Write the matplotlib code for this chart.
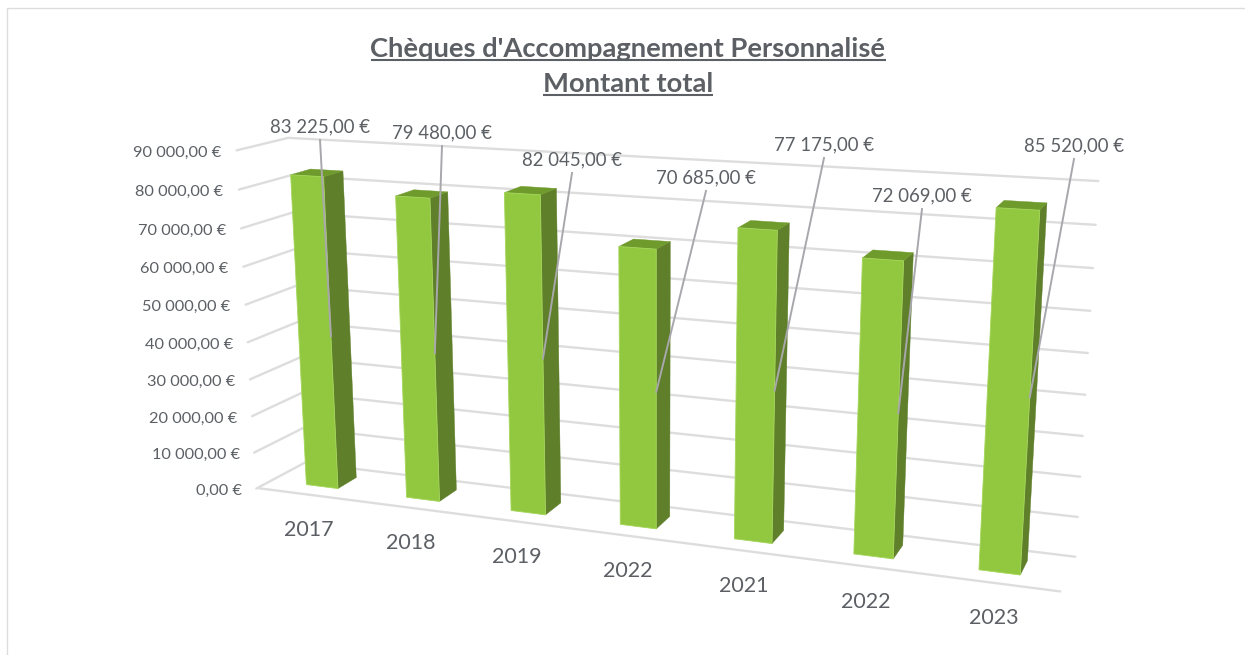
import numpy as np
import matplotlib
matplotlib.use("Agg")
import matplotlib.pyplot as plt
from matplotlib.patches import Polygon

categories = ["2017", "2018", "2019", "2022", "2021", "2022", "2023"]
values = [83225, 79480, 82045, 70685, 77175, 72069, 85520]
value_labels = ["83 225,00 €", "79 480,00 €", "82 045,00 €", "70 685,00 €",
                "77 175,00 €", "72 069,00 €", "85 520,00 €"]
ticks = [0, 10000, 20000, 30000, 40000, 50000, 60000, 70000, 80000, 90000]
tick_labels = ["0,00 €", "10 000,00 €", "20 000,00 €", "30 000,00 €", "40 000,00 €",
               "50 000,00 €", "60 000,00 €", "70 000,00 €", "80 000,00 €", "90 000,00 €"]
title_lines = ["Chèques d'Accompagnement Personnalisé", "Montant total"]

plt.rcParams["font.family"] = ["Lato", "DejaVu Sans"]
TXT = "#5C6065"
GRID = "#DDDDDD"
FRONT, SIDE, TOP = "#92C83F", "#5F7F2A", "#6F9A2C"
YMAX = 90000.0
N = len(categories)

# Camera: world (category position, value, depth) -> picture pixels, fitted to the box corners
calib = [
    ((0, 0, 0), (259, 488)), ((N, 0, 0), (1060, 592)),
    ((0, 0, 1), (305, 463)), ((N, 0, 1), (1075, 556)),
    ((0, YMAX, 0), (240, 150)), ((0, YMAX, 1), (288, 138)),
    ((N, YMAX, 1), (1098, 181)), ((N, 40000, 1), (1086, 395)),
]
A = []
for (x, y, z), (u, v) in calib:
    y = y / YMAX
    A.append([x, y, z, 1, 0, 0, 0, 0, -u * x, -u * y, -u * z, -u])
    A.append([0, 0, 0, 0, x, y, z, 1, -v * x, -v * y, -v * z, -v])
P = np.linalg.svd(np.array(A, float))[2][-1].reshape(3, 4)


def proj(x, y, z):
    h = P @ np.array([x, y / YMAX, z, 1.0])
    return h[0] / h[2], h[1] / h[2]


fig = plt.figure(figsize=(12.45, 6.55), dpi=100, facecolor="white")
ax = fig.add_axes([0, 0, 1, 1])
ax.set_xlim(0, 1245)
ax.set_ylim(655, 0)
ax.axis("off")


def seg(a, b, color=GRID, lw=1.7, z=1):
    pa, pb = proj(*a), proj(*b)
    ax.plot([pa[0], pb[0]], [pa[1], pb[1]], color=color, lw=lw, zorder=z, solid_capstyle="round")


# chart frame
ax.plot([7, 7, 1245], [655, 8, 8], color=GRID, lw=1.0, zorder=1)

# walls and floor
for t in ticks:
    seg((-0.02, t, -0.02), (0, t, 1))
    seg((0, t, 1), (N, t, 1))
seg((0, 0, 0), (N, 0, 0))

for t, lab in zip(ticks, tick_labels):
    px, py = proj(0, t, 0)
    ax.text(px - 18.5 + 1.5 * (1 - t / YMAX), py + 3 - t / YMAX * 0.5, lab, ha="right", va="center",
            fontsize=11.8, color=TXT, zorder=6)

W, Z0, Z1 = 0.32, 0.30, 0.72
for i, (val, cat) in enumerate(zip(values, categories)):
    x0, x1 = i + 0.5 - W / 2, i + 0.5 + W / 2
    side = [proj(x1, 0, Z0), proj(x1, 0, Z1), proj(x1, val, Z1), proj(x1, val, Z0)]
    top = [proj(x0, val, Z0), proj(x1, val, Z0), proj(x1, val, Z1), proj(x0, val, Z1)]
    front = [proj(x0, 0, Z0), proj(x1, 0, Z0), proj(x1, val, Z0), proj(x0, val, Z0)]
    ax.add_patch(Polygon(side, closed=True, fc=SIDE, ec=SIDE, lw=0.3, zorder=2 + i * 0.01))
    ax.add_patch(Polygon(top, closed=True, fc=TOP, ec=TOP, lw=0.3, zorder=2 + i * 0.01))
    ax.add_patch(Polygon(front, closed=True, fc=FRONT, ec="#A4D65A", lw=0.6, zorder=2 + i * 0.01))

# data labels with leader lines to the middle of each bar's front right edge
label_pos = [(320, 127), (442, 133), (572, 160), (706, 178), (824, 145), (922, 196), (1074, 146)]
for i, (val, lab, (lx, ly)) in enumerate(zip(values, value_labels, label_pos)):
    ex, ey = proj(i + 0.5 + W / 2, val / 2, Z0)
    ax.plot([lx, ex], [ly + 13, ey], color="#A8A8AC", lw=1.4, zorder=4)
    ax.text(lx, ly, lab, ha="center", va="center", fontsize=13.4, color=TXT, zorder=6)

# category labels
cat_pos = [(309, 530), (411, 543), (517, 557), (628, 571), (744, 586), (866, 602), (994, 618)]
for cat, (cx, cy) in zip(categories, cat_pos):
    ax.text(cx, cy, cat, ha="center", va="center", fontsize=15.5, color=TXT, zorder=6)

# underlined bold title
fig.canvas.draw()
rend = fig.canvas.get_renderer()
for line, y in zip(title_lines, (57, 92)):
    t = ax.text(628, y, line, ha="center", va="baseline", fontsize=19.7, fontweight="bold", color=TXT, zorder=6)
    bb = t.get_window_extent(rend)
    ax.plot([bb.x0, bb.x1], [y + 3, y + 3], color=TXT, lw=1.5, zorder=6, solid_capstyle="butt")

fig.savefig("out.png", dpi=100)
